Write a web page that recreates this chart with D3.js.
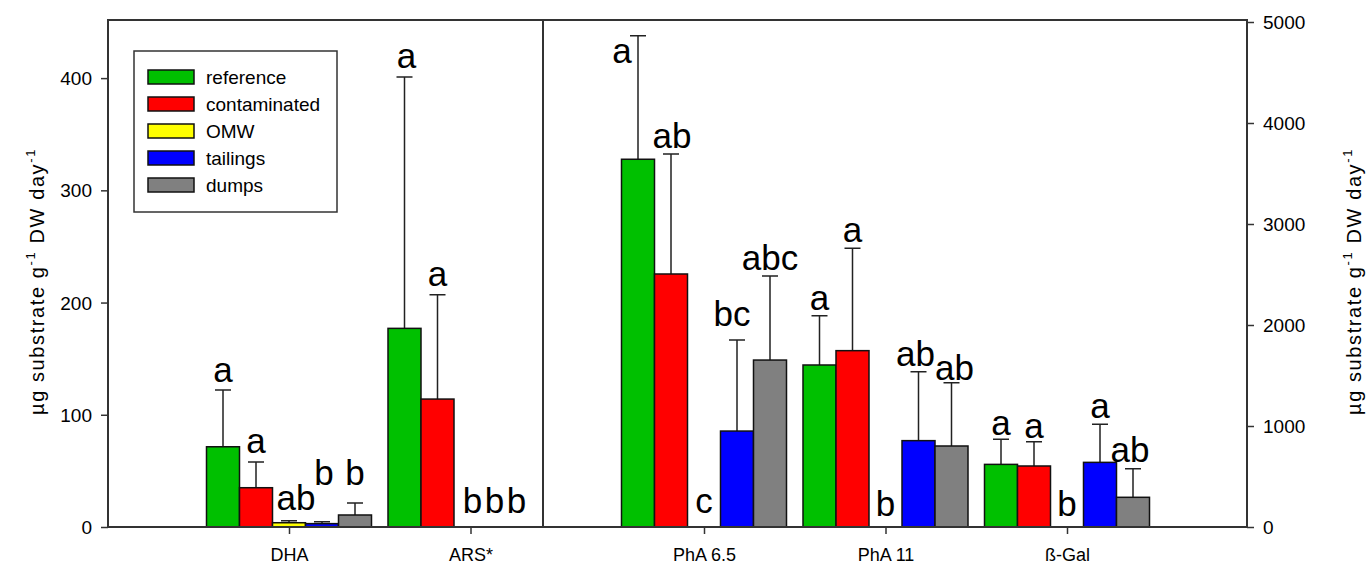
<!DOCTYPE html>
<html>
<head>
<meta charset="utf-8">
<script src="https://cdn.jsdelivr.net/npm/d3@7"></script>
<style>
  body { margin: 0; background: #fff; }
  text { font-family: "Liberation Sans", Arial, sans-serif; fill: #000; }
</style>
</head>
<body>
<svg id="chart" width="1371" height="570"></svg>
<script>
// categories, the first two on the left axis, the other three on the right axis
var leftCats = ['DHA', 'ARS*'],
    rightCats = ['PhA 6.5', 'PhA 11', 'ß-Gal'],
    categories = leftCats.concat(rightCats);

var seriesNames = ['reference', 'contaminated', 'OMW', 'tailings', 'dumps'];
var seriesColors = ['#00c000', '#ff0000', '#ffff00', '#0000ff', '#808080'];

// means, one per category (DHA, ARS*, PhA 6.5, PhA 11, ß-Gal)
var reference    = [71.5, 177, 3641, 1604, 620],
    contaminated = [35,   114, 2505, 1746, 604],
    omw          = [3.8,  0,   0,    0,    0],
    tailings     = [3,    0,   950,  855,  640],
    dumps        = [10.7, 0,   1653, 802,  294];

// upper error bars (SD)
var referenceErr    = [50.5, 224, 1223, 488,  248],
    contaminatedErr = [23,   93,  1188, 1013, 241],
    omwErr          = [1.8,  0,   0,    0,    0],
    tailingsErr     = [1.7,  0,   901,  683,  377],
    dumpsErr        = [10.7, 0,   832,  627,  283];

// significance letters
var referenceSig    = ['a', 'a', 'a', 'a', 'a'],
    contaminatedSig = ['a', 'a', 'ab', 'a', 'a'],
    omwSig          = ['ab', 'b', 'c', 'b', 'b'],
    tailingsSig     = ['b', 'b', 'bc', 'ab', 'a'],
    dumpsSig        = ['b', 'b', 'abc', 'ab', 'ab'];

var leftTicks = [0, 100, 200, 300, 400],
    rightTicks = [0, 1000, 2000, 3000, 4000, 5000];

var values = [reference, contaminated, omw, tailings, dumps],
    errors = [referenceErr, contaminatedErr, omwErr, tailingsErr, dumpsErr],
    letters = [referenceSig, contaminatedSig, omwSig, tailingsSig, dumpsSig];

// hand placement of a few letters, px [dx, dy] per series x category
var letterNudge = [
    [[0, -2], [2, -3], [-16, 33], [0, 0], [0, 2]],
    [[0, -3], [0, -3], [1, 0], [0, 0], [0, 2]],
    [[7, -5], [2, 0], [0, 0], [0, 3], [0, 3]],
    [[2, -31], [-9, 0], [-5, -8], [-3, 0], [0, 0]],
    [[0, -12], [-20, 0], [0, 0], [3, 3], [-3, -1]]
];

var x0 = 108, x1 = 1247, xMid = 543,
    yTop = 20, yBase = 527;

var svg = d3.select('#chart');
var frameColor = '#333';

var yLeft = d3.scaleLinear().domain([0, 450]).range([yBase, 22]),
    yRight = d3.scaleLinear().domain([0, 5000]).range([yBase, 22]);

var xLeft = d3.scalePoint().domain(leftCats).range([289, 470.5]),
    xRight = d3.scalePoint().domain(rightCats).range([704, 1067]);

var inner = d3.scaleBand().domain(seriesNames).range([-82.5, 82.5]);

function xOf(cat) {
    return leftCats.indexOf(cat) >= 0 ? xLeft(cat) : xRight(cat);
}
function yOf(cat) {
    return leftCats.indexOf(cat) >= 0 ? yLeft : yRight;
}

// flatten to bar records
var bars = [];
seriesNames.forEach(function(s, si) {
    categories.forEach(function(c, ci) {
        bars.push({
            series: s, si: si, cat: c,
            v: values[si][ci], e: errors[si][ci], sig: letters[si][ci],
            nudge: letterNudge[si][ci]
        });
    });
});

// error bars (drawn first, bars cover the lower part)
var eg = svg.append('g').attr('class', 'errors');
bars.filter(function(d) { return d.e > 0; }).forEach(function(d) {
    var y = yOf(d.cat),
        cx = xOf(d.cat) + inner(d.series) + inner.bandwidth() / 2,
        yt = y(d.v + d.e);
    eg.append('path')
        .attr('d', 'M' + cx + ',' + y(d.v) + 'V' + yt + 'M' + (cx - 8) + ',' + yt + 'H' + (cx + 8))
        .attr('stroke', '#222').attr('stroke-width', 1.5).attr('fill', 'none');
});

// bars
svg.append('g').attr('class', 'bars')
    .selectAll('rect')
    .data(bars.filter(function(d) { return d.v > 0; }))
    .enter().append('rect')
    .attr('x', function(d) { return xOf(d.cat) + inner(d.series); })
    .attr('width', inner.bandwidth())
    .attr('y', function(d) { return yOf(d.cat)(d.v); })
    .attr('height', function(d) { return yBase - yOf(d.cat)(d.v); })
    .attr('fill', function(d) { return seriesColors[d.si]; })
    .attr('stroke', '#111').attr('stroke-width', 1.5);

// letters
svg.append('g').attr('class', 'letters')
    .selectAll('text')
    .data(bars)
    .enter().append('text')
    .attr('x', function(d) { return xOf(d.cat) + inner(d.series) + inner.bandwidth() / 2 + d.nudge[0]; })
    .attr('y', function(d) {
        var top = d.v + d.e > 0 ? yOf(d.cat)(d.v + d.e) - 6 : yBase - 14;
        return top + d.nudge[1];
    })
    .attr('text-anchor', 'middle')
    .style('font-size', '35px')
    .text(function(d) { return d.sig; });

// frame
var frame = svg.append('g').attr('stroke', frameColor).attr('stroke-width', 2).attr('fill', 'none');
frame.append('path').attr('d', 'M' + x0 + ',' + yBase + 'V' + yTop + 'H' + x1 + 'V' + yBase);
frame.append('path').attr('d', 'M' + xMid + ',' + yTop + 'V' + yBase);
frame.append('path').attr('d', 'M' + x0 + ',' + yBase + 'H' + x1);

// y axes
var gl = svg.append('g').attr('transform', 'translate(' + x0 + ',0)')
    .call(d3.axisLeft(yLeft).tickValues(leftTicks).tickFormat(d3.format('d'))
        .tickSize(7).tickPadding(9).tickSizeOuter(0));
var gr = svg.append('g').attr('transform', 'translate(' + x1 + ',0)')
    .call(d3.axisRight(yRight).tickValues(rightTicks).tickFormat(d3.format('d'))
        .tickSize(7).tickPadding(9).tickSizeOuter(0));

// x axes
var gxl = svg.append('g').attr('transform', 'translate(0,' + yBase + ')')
    .call(d3.axisBottom(xLeft).tickSize(7).tickPadding(14).tickSizeOuter(0));
var gxr = svg.append('g').attr('transform', 'translate(0,' + yBase + ')')
    .call(d3.axisBottom(xRight).tickSize(7).tickPadding(14).tickSizeOuter(0));

[gl, gr, gxl, gxr].forEach(function(g) {
    g.select('.domain').remove();
    g.selectAll('.tick line').attr('stroke', frameColor).attr('stroke-width', 1.5);
    g.selectAll('.tick text').attr('fill', '#000')
        .style('font-family', '"Liberation Sans", Arial, sans-serif');
});
gl.selectAll('.tick text').style('font-size', '19px').attr('dy', '0.35em');
gr.selectAll('.tick text').style('font-size', '19px').attr('dy', '0.35em');
gxl.selectAll('.tick text').style('font-size', '18px');
gxr.selectAll('.tick text').style('font-size', '18px');

// axis titles
function axisTitle(x) {
    var t = svg.append('text')
        .attr('transform', 'translate(' + x + ',' + ((yTop + yBase) / 2 + 8) + ') rotate(-90)')
        .attr('text-anchor', 'middle')
        .style('font-size', '20px')
        .style('letter-spacing', '1.6px');
    t.append('tspan').text('µg substrate g');
    t.append('tspan').attr('dy', -9).style('font-size', '13px').text('-1');
    t.append('tspan').attr('dy', 9).text('  DW day');
    t.append('tspan').attr('dy', -9).style('font-size', '13px').text('-1');
}
axisTitle(44);
axisTitle(1361);

// legend
var lg = svg.append('g').attr('class', 'legend');
lg.append('rect').attr('x', 134).attr('y', 51).attr('width', 203).attr('height', 161)
    .attr('fill', '#fff').attr('stroke', frameColor).attr('stroke-width', 1.5);
seriesNames.forEach(function(s, i) {
    var cy = 77 + i * 27;
    lg.append('rect').attr('x', 148).attr('y', cy - 7).attr('width', 46).attr('height', 14)
        .attr('fill', seriesColors[i]).attr('stroke', '#111').attr('stroke-width', 1.5);
    lg.append('text').attr('x', 206).attr('y', cy + 7).style('font-size', '19px').text(s);
});
</script>
</body>
</html>
